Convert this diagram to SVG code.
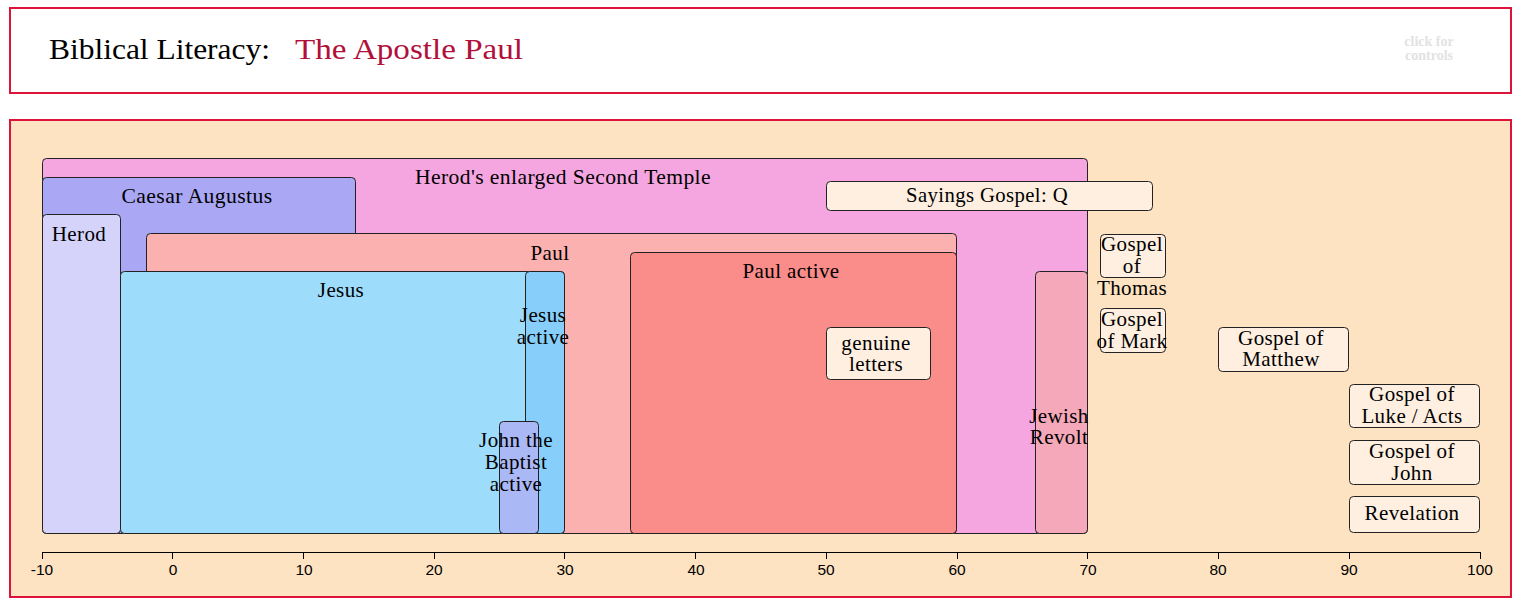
<svg xmlns="http://www.w3.org/2000/svg" width="1522" height="602" viewBox="0 0 1522 602">
<style>
.frame{fill:#ffffff;stroke:#dc143c;stroke-width:2}
.panel{fill:#fde3c1;stroke:#dc143c;stroke-width:2}
.bar{stroke:#222;stroke-width:1}
.lbl{font-family:"Liberation Serif","DejaVu Serif",serif;font-size:21px;letter-spacing:0.4px;fill:#000;text-anchor:middle}
.tick{font-family:"Liberation Sans",Arial,sans-serif;font-size:15.5px;fill:#000;text-anchor:middle}
.axis{stroke:#000;stroke-width:1;fill:none}
.doc{fill:#feefe0}
</style>
<rect class="frame" x="10" y="8" width="1501" height="85"/>
<text x="49" y="59" font-family="Liberation Serif, serif" font-size="30" fill="#000" textLength="221" lengthAdjust="spacingAndGlyphs">Biblical Literacy:</text>
<text x="295" y="59" font-family="Liberation Serif, serif" font-size="30" fill="#b0103a" textLength="228" lengthAdjust="spacingAndGlyphs">The Apostle Paul</text>
<text font-family="Liberation Serif, serif" font-size="14" font-weight="bold" fill="#e2e2e2" text-anchor="middle"><tspan x="1429" y="46">click for</tspan><tspan x="1429" y="60">controls</tspan></text>
<rect class="panel" x="10" y="120" width="1501" height="477"/>
<g id="temple"><rect class="bar" x="42.5" y="158.5" width="1045" height="375" rx="4" fill="#f5a6e0"/><text class="lbl" x="563" y="184" textLength="296" lengthAdjust="spacingAndGlyphs">Herod's enlarged Second Temple</text></g>
<g id="augustus"><rect class="bar" x="42.5" y="177.5" width="313" height="356" rx="4" fill="#aaa8f5"/><text class="lbl" x="197" y="203" textLength="151" lengthAdjust="spacingAndGlyphs">Caesar Augustus</text></g>
<g id="herod"><rect class="bar" x="42.5" y="214.5" width="78" height="319" rx="4" fill="#d5d3fa"/><text class="lbl" x="79" y="241">Herod</text></g>
<g id="paul"><rect class="bar" x="146.5" y="233.5" width="810" height="300" rx="4" fill="#fbb1b0"/><text class="lbl" x="550" y="260">Paul</text></g>
<g id="jesus"><rect class="bar" x="120.5" y="271.5" width="444" height="262" rx="4" fill="#9edcfc"/><text class="lbl" x="341" y="297">Jesus</text></g>
<g id="jesus-active"><rect class="bar" x="525.5" y="271.5" width="39" height="262" rx="4" fill="#87cffa"/><text class="lbl"><tspan x="543" y="322">Jesus</tspan><tspan x="543" y="344">active</tspan></text></g>
<g id="john-baptist"><rect class="bar" x="499.5" y="421.5" width="39" height="112" rx="4" fill="#aab8f5"/><text class="lbl"><tspan x="516" y="447">John the</tspan><tspan x="516" y="469">Baptist</tspan><tspan x="516" y="491">active</tspan></text></g>
<g id="paul-active"><rect class="bar" x="630.5" y="252.5" width="326" height="281" rx="4" fill="#fa8c8a"/><text class="lbl" x="791" y="278">Paul active</text></g>
<g id="genuine-letters"><rect class="bar doc" x="826.5" y="327.5" width="104" height="52" rx="4"/><text class="lbl"><tspan x="876" y="350">genuine</tspan><tspan x="876" y="371">letters</tspan></text></g>
<g id="q"><rect class="bar doc" x="826.5" y="181.5" width="326" height="29" rx="4"/><text class="lbl" x="987" y="202" textLength="162" lengthAdjust="spacingAndGlyphs">Sayings Gospel: Q</text></g>
<g id="jewish-revolt"><rect class="bar" x="1035.5" y="271.5" width="52" height="262" rx="4" fill="#f5a8ba"/><text class="lbl"><tspan x="1059" y="423">Jewish</tspan><tspan x="1059" y="444">Revolt</tspan></text></g>
<g id="thomas"><rect class="bar doc" x="1100.5" y="234.5" width="65" height="43" rx="4"/><text class="lbl"><tspan x="1132" y="251">Gospel</tspan><tspan x="1132" y="273">of</tspan><tspan x="1132" y="295">Thomas</tspan></text></g>
<g id="mark"><rect class="bar doc" x="1100.5" y="308.5" width="65" height="44" rx="4"/><text class="lbl"><tspan x="1132" y="326">Gospel</tspan><tspan x="1132" y="348">of Mark</tspan></text></g>
<g id="matthew"><rect class="bar doc" x="1218.5" y="327.5" width="130" height="44" rx="4"/><text class="lbl"><tspan x="1281" y="345">Gospel of</tspan><tspan x="1281" y="366">Matthew</tspan></text></g>
<g id="luke"><rect class="bar doc" x="1349.5" y="384.5" width="130" height="43" rx="4"/><text class="lbl"><tspan x="1412" y="401">Gospel of</tspan><tspan x="1412" y="423">Luke / Acts</tspan></text></g>
<g id="john"><rect class="bar doc" x="1349.5" y="440.5" width="130" height="44" rx="4"/><text class="lbl"><tspan x="1412" y="458">Gospel of</tspan><tspan x="1412" y="480">John</tspan></text></g>
<g id="revelation"><rect class="bar doc" x="1349.5" y="496.5" width="130" height="36" rx="4"/><text class="lbl" x="1412" y="520">Revelation</text></g>
<g id="axis">
<path class="axis" d="M42.5 552.5H1480.5M42.5 552v7M172.5 552v7M303.5 552v7M434.5 552v7M564.5 552v7M695.5 552v7M826.5 552v7M957.5 552v7M1087.5 552v7M1218.5 552v7M1349.5 552v7M1480.5 552v7"/>
<text class="tick" x="42" y="575">-10</text>
<text class="tick" x="173" y="575">0</text>
<text class="tick" x="304" y="575">10</text>
<text class="tick" x="434" y="575">20</text>
<text class="tick" x="565" y="575">30</text>
<text class="tick" x="696" y="575">40</text>
<text class="tick" x="826" y="575">50</text>
<text class="tick" x="957" y="575">60</text>
<text class="tick" x="1088" y="575">70</text>
<text class="tick" x="1218" y="575">80</text>
<text class="tick" x="1349" y="575">90</text>
<text class="tick" x="1480" y="575">100</text>
</g>
</svg>
